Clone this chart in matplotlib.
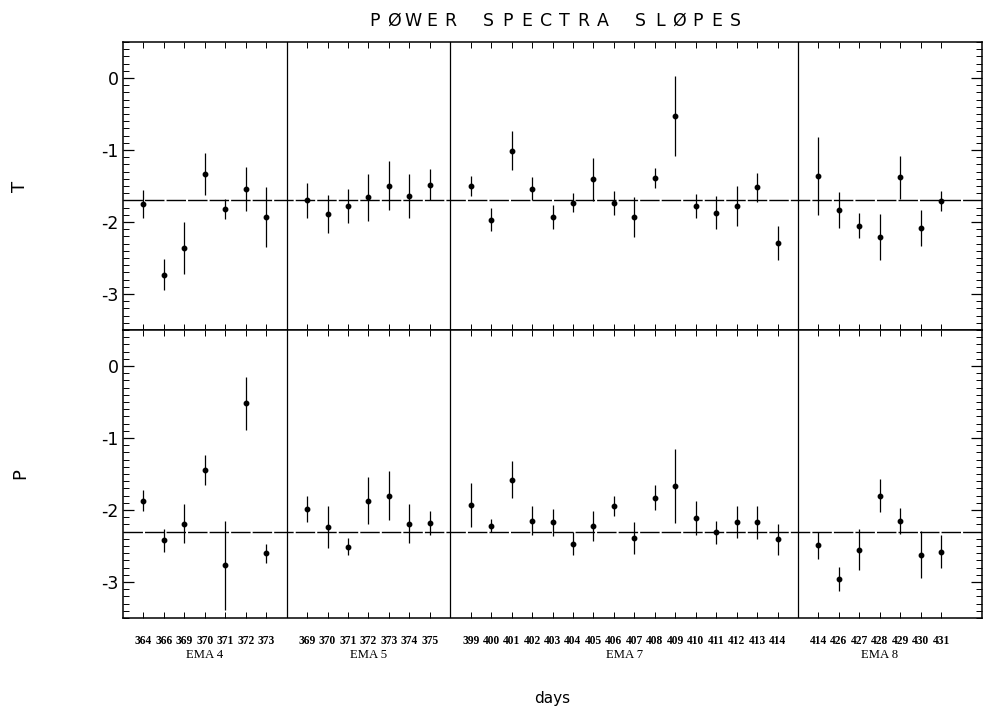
import matplotlib
matplotlib.use("Agg")
import matplotlib.pyplot as plt
from matplotlib.ticker import MultipleLocator
import matplotlib.transforms as mtransforms

plt.rcParams["axes.unicode_minus"] = False

# --- data ---
groups = ["EMA 4", "EMA 5", "EMA 7", "EMA 8"]

days_ema4 = [364, 366, 369, 370, 371, 372, 373]
days_ema5 = [369, 370, 371, 372, 373, 374, 375]
days_ema7 = [399, 400, 401, 402, 403, 404, 405, 406, 407, 408, 409, 410, 411, 412, 413, 414]
days_ema8 = [414, 426, 427, 428, 429, 430, 431]

t_ema4 = [-1.75, -2.73, -2.36, -1.33, -1.82, -1.54, -1.93]
t_err_ema4 = [0.20, 0.21, 0.36, 0.29, 0.14, 0.31, 0.42]
t_ema5 = [-1.70, -1.89, -1.78, -1.66, -1.50, -1.64, -1.48]
t_err_ema5 = [0.24, 0.26, 0.24, 0.32, 0.34, 0.31, 0.22]
t_ema7 = [-1.50, -1.97, -1.01, -1.54, -1.93, -1.73, -1.41, -1.74,
          -1.93, -1.39, -0.53, -1.78, -1.87, -1.78, -1.52, -2.29]
t_err_ema7 = [0.14, 0.16, 0.27, 0.16, 0.17, 0.13, 0.30, 0.17,
              0.28, 0.14, 0.56, 0.17, 0.23, 0.28, 0.20, 0.24]
t_ema8 = [-1.36, -1.83, -2.05, -2.21, -1.38, -2.08, -1.71]
t_err_ema8 = [0.54, 0.25, 0.17, 0.32, 0.30, 0.25, 0.14]

p_ema4 = [-1.87, -2.42, -2.19, -1.45, -2.77, -0.52, -2.60]
p_err_ema4 = [0.15, 0.16, 0.27, 0.21, 0.62, 0.37, 0.13]
p_ema5 = [-1.99, -2.24, -2.51, -1.87, -1.80, -2.19, -2.18]
p_err_ema5 = [0.18, 0.29, 0.12, 0.33, 0.34, 0.27, 0.17]
p_ema7 = [-1.93, -2.22, -1.58, -2.15, -2.17, -2.47, -2.22, -1.95,
          -2.39, -1.83, -1.67, -2.11, -2.31, -2.17, -2.17, -2.41]
p_err_ema7 = [0.30, 0.09, 0.26, 0.20, 0.19, 0.16, 0.21, 0.14,
              0.22, 0.17, 0.51, 0.24, 0.16, 0.22, 0.23, 0.21]
p_ema8 = [-2.49, -2.96, -2.55, -1.80, -2.15, -2.62, -2.58]
p_err_ema8 = [0.19, 0.17, 0.28, 0.23, 0.18, 0.33, 0.23]

t_mean = -1.70
p_mean = -2.30

title = "PØWER SPECTRA SLØPES"

days_all = [days_ema4, days_ema5, days_ema7, days_ema8]
t_all = [t_ema4, t_ema5, t_ema7, t_ema8]
t_err_all = [t_err_ema4, t_err_ema5, t_err_ema7, t_err_ema8]
p_all = [p_ema4, p_ema5, p_ema7, p_ema8]
p_err_all = [p_err_ema4, p_err_ema5, p_err_ema7, p_err_ema8]

# slot positions: each group followed by one empty slot holding the separator
positions, separators, centers = [], [], []
start = 0
for d in days_all:
    pos = list(range(start, start + len(d)))
    positions.append(pos)
    centers.append((pos[0] + pos[-1]) / 2)
    start += len(d) + 1
    separators.append(start - 1)
separators = separators[:-1]
xmax = start

fig = plt.figure(figsize=(9.96, 7.2), dpi=100)
ax_t = fig.add_axes([0.1235, 0.5417, 0.8625, 0.4])
ax_p = fig.add_axes([0.1235, 0.1417, 0.8625, 0.4])

for ax, vals, errs, mean, lab in [(ax_t, t_all, t_err_all, t_mean, "T"),
                                   (ax_p, p_all, p_err_all, p_mean, "P")]:
    for pos, v, e in zip(positions, vals, errs):
        ax.errorbar(pos, v, yerr=e, fmt="o", color="black", ms=3.2,
                    elinewidth=0.9, capsize=0)
    ax.axhline(mean, color="black", lw=1.0, ls=(0, (14, 1.5)))
    for s in separators:
        ax.axvline(s, color="black", lw=0.9)
    ax.set_xlim(-1, xmax)
    ax.set_ylim(-3.5, 0.5)
    ax.yaxis.set_major_locator(MultipleLocator(1))
    ax.yaxis.set_minor_locator(MultipleLocator(0.1))
    ax.tick_params(axis="y", which="major", direction="in", length=8,
                   left=True, right=True, labelsize=12.5, width=0.9, pad=3)
    ax.tick_params(axis="y", which="minor", direction="in", length=4,
                   left=True, right=True, width=0.7)
    ax.set_xticks([p for pos in positions for p in pos])
    ax.tick_params(axis="x", direction="in", length=4, top=True, bottom=True,
                   width=0.7)
    ax.set_ylabel(lab, fontsize=13)
    ax.yaxis.set_label_coords(-0.109, 0.5)
    for sp in ax.spines.values():
        sp.set_linewidth(1.1)

ax_t.tick_params(axis="x", labelbottom=False)
ax_p.set_xticklabels([str(d) for d in days_ema4 + days_ema5 + days_ema7 + days_ema8],
                     family="Liberation Serif", fontweight="bold", fontsize=8.3)
ax_p.tick_params(axis="x", pad=12)

trans = mtransforms.blended_transform_factory(ax_p.transData, ax_p.transAxes)
for c, g in zip(centers, groups):
    ax_p.text(c, -0.13, g, transform=trans, ha="center", va="center",
              family="Liberation Serif", fontsize=9.2)

ax_p.text(0.5, -0.28, "days", transform=ax_p.transAxes, ha="center",
          va="center", fontsize=11)

# widely spaced title, one glyph per slot
pitch = 19 / 996
x0 = 0.5575 - pitch * (len(title) - 1) / 2
for i, ch in enumerate(title):
    fig.text(x0 + i * pitch, 0.971, ch, ha="center", va="center", fontsize=12.5)

fig.savefig("out.png", dpi=100)
